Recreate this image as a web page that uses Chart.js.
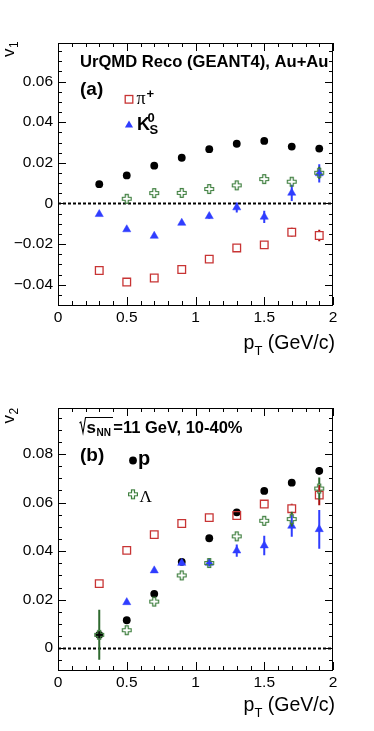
<!DOCTYPE html>
<html>
<head>
<meta charset="utf-8">
<script src="https://cdn.jsdelivr.net/npm/chart.js@4.4.0/dist/chart.umd.min.js"></script>
<style>
  html, body { margin: 0; padding: 0; background: #fff; }
  #wrap { position: relative; width: 374px; height: 731px; }
  canvas { position: absolute; left: 0; }
</style>
</head>
<body>
<div id="wrap">
  <canvas id="v1Chart" width="374" height="365" style="top:0"></canvas>
  <canvas id="v2Chart" width="374" height="366" style="top:365px"></canvas>
</div>
<script>
// pT bin centres (GeV/c)
const ptBins = [0.3, 0.5, 0.7, 0.9, 1.1, 1.3, 1.5, 1.7, 1.9];

// panel (a): directed flow v1
const v1Proton    = [0.0095, 0.0138, 0.0186, 0.0225, 0.0267, 0.0294, 0.0308, 0.0280, 0.0270];
const v1ProtonErr = [0.0004, 0.0004, 0.0005, 0.0005, 0.0006, 0.0007, 0.0008, 0.0010, 0.0012];
const v1Lambda    = [null, 0.0023, 0.0051, 0.0052, 0.0071, 0.0089, 0.0120, 0.0107, 0.0151];
const v1LambdaErr = [0, 0.0008, 0.0008, 0.0008, 0.0009, 0.0010, 0.0012, 0.0020, 0.0030];
const v1Pion      = [-0.0330, -0.0387, -0.0367, -0.0325, -0.0274, -0.0219, -0.0204, -0.0142, -0.0158];
const v1PionErr   = [0.0004, 0.0004, 0.0004, 0.0005, 0.0006, 0.0007, 0.0010, 0.0022, 0.0028];
const v1Kaon      = [-0.0053, -0.0128, -0.0160, -0.0096, -0.0063, -0.0020, -0.0066, 0.0052, 0.0148];
const v1KaonErr   = [0.0006, 0.0007, 0.0008, 0.0009, 0.0012, 0.0025, 0.0030, 0.0040, 0.0045];

// panel (b): elliptic flow v2
const v2Proton    = [0.0055, 0.0115, 0.0224, 0.0356, 0.0453, 0.0560, 0.0648, 0.0682, 0.0731];
const v2ProtonErr = [0.0004, 0.0004, 0.0005, 0.0005, 0.0006, 0.0008, 0.0010, 0.0012, 0.0016];
const v2Lambda    = [0.0055, 0.0074, 0.0192, 0.0300, 0.0351, 0.0461, 0.0525, 0.0532, 0.0658];
const v2LambdaErr = [0.0103, 0.0012, 0.0008, 0.0008, 0.0009, 0.0012, 0.0020, 0.0030, 0.0045];
const v2Pion      = [0.0266, 0.0403, 0.0468, 0.0514, 0.0538, 0.0547, 0.0594, 0.0575, 0.0631];
const v2PionErr   = [0.0003, 0.0003, 0.0004, 0.0004, 0.0005, 0.0006, 0.0015, 0.0020, 0.0042];
const v2Kaon      = [null, 0.0189, 0.0320, 0.0351, 0.0351, 0.0402, 0.0423, 0.0504, 0.0490];
const v2KaonErr   = [0, 0.0006, 0.0008, 0.0010, 0.0014, 0.0025, 0.0040, 0.0045, 0.0080];

// tick labels
const xTicks  = [0, 0.5, 1, 1.5, 2];
const v1Ticks = [-0.04, -0.02, 0, 0.02, 0.04, 0.06];
const v2Ticks = [0, 0.02, 0.04, 0.06, 0.08];

const SANS = '"Liberation Sans", Arial, Helvetica, sans-serif';
const SERIF = '"Liberation Serif", "Times New Roman", serif';

const RED = '#c83434', RED_ERR = '#a80f0f';
const BLUE = '#2f3dff', BLUE_ERR = '#2f3dff';
const GREEN = '#3f7f3f', GREEN_ERR = '#2f6a2f';

// open cross marker (ROOT style 28)
function makeCross(color) {
    const c = document.createElement('canvas');
    c.width = 12; c.height = 12;
    const g = c.getContext('2d');
    const m = 6, s = 4.4, a = 1.5;
    g.strokeStyle = color;
    g.lineWidth = 1.2;
    g.beginPath();
    g.moveTo(m - a, m - s); g.lineTo(m + a, m - s); g.lineTo(m + a, m - a);
    g.lineTo(m + s, m - a); g.lineTo(m + s, m + a); g.lineTo(m + a, m + a);
    g.lineTo(m + a, m + s); g.lineTo(m - a, m + s); g.lineTo(m - a, m + a);
    g.lineTo(m - s, m + a); g.lineTo(m - s, m - a); g.lineTo(m - a, m - a);
    g.closePath();
    g.stroke();
    return c;
}
const crossMarker = makeCross(GREEN);

function points(vals) {
    return ptBins.map((x, i) => ({ x: x, y: vals[i] }));
}

function makeDatasets(proton, protonErr, lambda, lambdaErr, pion, pionErr, kaon, kaonErr) {
    return [
        { label: 'Lambda', data: points(lambda), errors: lambdaErr, errorColor: GREEN_ERR, errorGap: 4.5,
          pointStyle: crossMarker, pointRadius: 5 },
        { label: 'K0S', data: points(kaon), errors: kaonErr, errorColor: BLUE_ERR, errorGap: 0,
          pointStyle: 'triangle', pointRadius: 4.7, backgroundColor: BLUE, borderColor: BLUE, borderWidth: 0.5 },
        { label: 'pi+', data: points(pion), errors: pionErr, errorColor: RED_ERR, errorGap: 4,
          pointStyle: 'rect', pointRadius: 5.4, backgroundColor: 'rgba(0,0,0,0)', borderColor: RED, borderWidth: 1.3 },
        { label: 'p', data: points(proton), errors: protonErr, errorColor: '#000', errorGap: 0,
          pointStyle: 'circle', pointRadius: 3.9, backgroundColor: '#000', borderColor: '#000', borderWidth: 0 }
    ];
}

function fmt(v) {
    if (v === 0) return '0';
    return String(v).replace('-', '\u2212');
}

// error bars, drawn just before each dataset's markers
const errorBars = {
    id: 'errorBars',
    beforeDatasetDraw(chart, args) {
        const ds = chart.data.datasets[args.index];
        if (!ds.errors) return;
        const ctx = chart.ctx;
        const y = chart.scales.y;
        ctx.save();
        ctx.strokeStyle = ds.errorColor;
        ctx.lineWidth = 2;
        args.meta.data.forEach((pt, i) => {
            const v = ds.data[i].y, e = ds.errors[i];
            if (v == null || !e || pt.skip) return;
            const top = y.getPixelForValue(v + e);
            const bot = y.getPixelForValue(v - e);
            const g = ds.errorGap;
            ctx.beginPath();
            if (pt.y - top > g) { ctx.moveTo(pt.x, top); ctx.lineTo(pt.x, pt.y - g); }
            if (bot - pt.y > g) { ctx.moveTo(pt.x, pt.y + g); ctx.lineTo(pt.x, bot); }
            ctx.stroke();
        });
        ctx.restore();
    }
};

function text(ctx, str, x, y, font, color) {
    ctx.font = font;
    ctx.fillStyle = color || '#000';
    ctx.textAlign = 'left';
    ctx.textBaseline = 'alphabetic';
    ctx.fillText(str, x, y);
    return ctx.measureText(str).width;
}

function drawMarker(ctx, kind, x, y) {
    ctx.save();
    if (kind === 'rect') {
        ctx.strokeStyle = RED; ctx.lineWidth = 1.3;
        ctx.strokeRect(x - 3.8, y - 3.8, 7.6, 7.6);
    } else if (kind === 'triangle') {
        const r = 4.7;
        ctx.fillStyle = BLUE;
        ctx.beginPath();
        ctx.moveTo(x, y - r);
        ctx.lineTo(x + 0.866 * r, y + 0.5 * r);
        ctx.lineTo(x - 0.866 * r, y + 0.5 * r);
        ctx.closePath();
        ctx.fill();
    } else if (kind === 'circle') {
        ctx.fillStyle = '#000';
        ctx.beginPath();
        ctx.arc(x, y, 3.9, 0, Math.PI * 2);
        ctx.fill();
    } else if (kind === 'cross') {
        ctx.drawImage(crossMarker, x - 6, y - 6);
    }
    ctx.restore();
}

// ROOT-like frame: dotted zero line, box, inward ticks on all sides, titles
function framePlugin(cfg) {
    return {
        id: 'rootFrame',
        beforeDatasetsDraw(chart) {
            const { ctx, chartArea: a, scales: { y } } = chart;
            const y0 = Math.round(y.getPixelForValue(0)) + 0.5;
            ctx.save();
            ctx.strokeStyle = '#000';
            ctx.lineWidth = 2;
            ctx.setLineDash([3, 2]);
            ctx.beginPath();
            ctx.moveTo(a.left, y0);
            ctx.lineTo(a.right, y0);
            ctx.stroke();
            ctx.restore();
        },
        afterDraw(chart) {
            const { ctx, chartArea: a, scales: { x, y } } = chart;
            ctx.save();
            ctx.strokeStyle = '#000';
            ctx.lineWidth = 1;
            ctx.strokeRect(a.left + 0.5, a.top + 0.5, a.right - a.left - 1, a.bottom - a.top);

            ctx.beginPath();
            for (let i = 0; i <= 20; i++) {
                const px = Math.round(x.getPixelForValue(i / 10)) + 0.5;
                const len = i % 5 === 0 ? 8 : 4;
                ctx.moveTo(px, a.bottom); ctx.lineTo(px, a.bottom - len);
                ctx.moveTo(px, a.top); ctx.lineTo(px, a.top + len);
            }
            const n0 = Math.ceil(cfg.yMin / 0.005 - 1e-6), n1 = Math.floor(cfg.yMax / 0.005 + 1e-6);
            for (let n = n0; n <= n1; n++) {
                const py = Math.round(y.getPixelForValue(n * 0.005)) + 0.5;
                const len = n % 4 === 0 ? 8 : 4;
                ctx.moveTo(a.left, py); ctx.lineTo(a.left + len, py);
                ctx.moveTo(a.right, py); ctx.lineTo(a.right - len, py);
            }
            ctx.stroke();

            // y title, rotated and flushed to the top
            ctx.save();
            ctx.translate(13.5, cfg.yTitleY);
            ctx.rotate(-Math.PI / 2);
            const vw = text(ctx, 'v', 0, 0, '17px ' + SANS);
            text(ctx, cfg.yIndex, vw + 0.5, 4, '12px ' + SANS);
            ctx.restore();

            // x title, flushed to the right
            ctx.font = '19.5px ' + SANS;
            const wP = ctx.measureText('p').width;
            const wRest = ctx.measureText(' (GeV/c)').width;
            ctx.font = '13px ' + SANS;
            const wT = ctx.measureText('T').width;
            let tx = 335 - (wP + wT + wRest);
            const ty = a.bottom + cfg.xTitleDy;
            tx += text(ctx, 'p', tx, ty, '19.5px ' + SANS);
            tx += text(ctx, 'T', tx, ty + 6, '13px ' + SANS);
            text(ctx, ' (GeV/c)', tx, ty, '19.5px ' + SANS);

            cfg.labels(ctx);
            ctx.restore();
        }
    };
}

function makeChart(id, datasets, yMin, yMax, yTicks, cfg, xAxisHeight) {
    cfg.yMin = yMin; cfg.yMax = yMax;
    return new Chart(document.getElementById(id).getContext('2d'), {
        type: 'scatter',
        data: { datasets: datasets },
        options: {
            responsive: false,
            animation: false,
            devicePixelRatio: 1,
            layout: { padding: { top: 43, right: 41, left: 0, bottom: 0 } },
            scales: {
                x: {
                    type: 'linear', min: 0, max: 2,
                    afterBuildTicks: s => { s.ticks = xTicks.map(v => ({ value: v })); },
                    afterFit: s => { s.height = xAxisHeight; },
                    ticks: { callback: v => fmt(v), color: '#000', padding: 3, maxRotation: 0,
                             font: { family: SANS, size: 15.5 } },
                    grid: { display: false, drawTicks: false },
                    border: { display: false }
                },
                y: {
                    type: 'linear', min: yMin, max: yMax,
                    afterBuildTicks: s => { s.ticks = yTicks.map(v => ({ value: v })); },
                    afterFit: s => { s.width = 58; },
                    ticks: { callback: v => fmt(v), color: '#000', padding: 5,
                             font: { family: SANS, size: 15.5 } },
                    grid: { display: false, drawTicks: false },
                    border: { display: false }
                }
            },
            plugins: { legend: { display: false }, tooltip: { enabled: false } }
        },
        plugins: [errorBars, framePlugin(cfg)]
    });
}

makeChart('v1Chart',
    makeDatasets(v1Proton, v1ProtonErr, v1Lambda, v1LambdaErr, v1Pion, v1PionErr, v1Kaon, v1KaonErr),
    -0.05, 0.079, v1Ticks,
    {
        yIndex: '1', yTitleY: 57, xTitleDy: 44,
        labels(ctx) {
            text(ctx, 'UrQMD Reco (GEANT4), Au+Au', 80, 67.3, 'bold 16.6px ' + SANS);
            text(ctx, '(a)', 80, 94.5, 'bold 19px ' + SANS);
            drawMarker(ctx, 'rect', 129, 99.3);
            text(ctx, '\u03c0', 136.5, 104, '18px ' + SERIF);
            text(ctx, '+', 146.5, 98, 'bold 13px ' + SANS);
            drawMarker(ctx, 'triangle', 129, 125.2);
            text(ctx, 'K', 137, 129.5, 'bold 18px ' + SANS);
            text(ctx, '0', 147.5, 121.5, 'bold 13px ' + SANS);
            text(ctx, 'S', 149.5, 134.3, 'bold 13px ' + SANS);
        }
    }, 60);

makeChart('v2Chart',
    makeDatasets(v2Proton, v2ProtonErr, v2Lambda, v2LambdaErr, v2Pion, v2PionErr, v2Kaon, v2KaonErr),
    -0.009, 0.099, v2Ticks,
    {
        yIndex: '2', yTitleY: 58.5, xTitleDy: 41,
        labels(ctx) {
            // radical sign over s_NN
            ctx.save();
            ctx.strokeStyle = '#000';
            ctx.lineWidth = 1.1;
            ctx.beginPath();
            ctx.moveTo(79.5, 58); ctx.lineTo(80.8, 57); ctx.lineTo(83, 68);
            ctx.lineTo(85.5, 52.5); ctx.lineTo(113, 52.5);
            ctx.stroke();
            ctx.restore();
            text(ctx, 's', 86.5, 67.7, 'bold 17px ' + SANS);
            text(ctx, 'NN', 96.5, 71, 'bold 10px ' + SANS);
            text(ctx, '=11 GeV, 10-40%', 113.3, 67.7, 'bold 16.5px ' + SANS);
            text(ctx, '(b)', 80, 96, 'bold 19px ' + SANS);
            drawMarker(ctx, 'circle', 133, 95.5);
            text(ctx, 'p', 138, 100, 'bold 20px ' + SANS);
            drawMarker(ctx, 'cross', 133, 129.3);
            text(ctx, '\u039b', 139.5, 137, '17px ' + SERIF);
        }
    }, 61);
</script>
</body>
</html>
